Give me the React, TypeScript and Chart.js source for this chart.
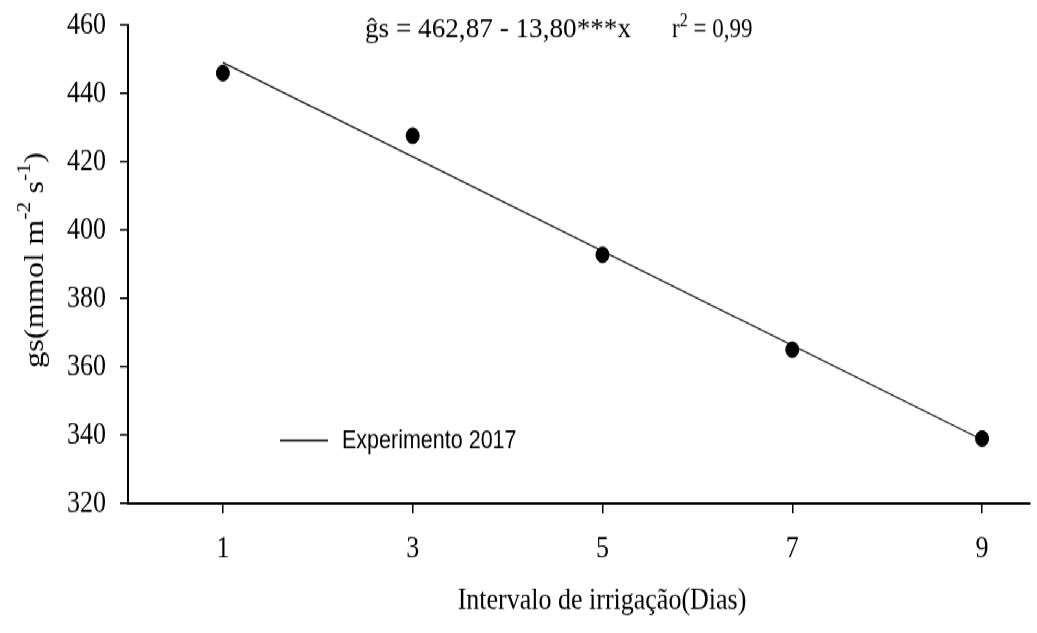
import React, { useEffect, useRef } from 'react';
import { Chart, registerables } from 'chart.js';

Chart.register(...registerables);

// ---- data ----
const intervalDays = [1, 3, 5, 7, 9];
const gsObserved = [446, 427.6, 392.8, 365, 339];
const fitX = [1, 9];
const fitY = [449.07, 338.67];
const xTickValues = [1, 3, 5, 7, 9];
const xTickLabels = ['1', '3', '5', '7', '9'];
const yTickValues = [320, 340, 360, 380, 400, 420, 440, 460];
const yTickLabels = ['320', '340', '360', '380', '400', '420', '440', '460'];
const legendLabel = 'Experimento 2017';
const xTitle = 'Intervalo de irrigação(Dias)';
const yTitleParts = [
  { text: 'gs(mmol m' },
  { text: '-2', sup: true },
  { text: ' s' },
  { text: '-1', sup: true },
  { text: ')' },
];
const equationLeft = 'ĝs = 462,87 - 13,80***x';
const equationRight = [
  { text: 'r' },
  { text: '2', sup: true },
  { text: ' = 0,99' },
];

const W = 1037;
const H = 528; // internal height, stretched to 633 on screen
const STRETCH = 633 / H;
const SERIF = '"Liberation Serif", "Times New Roman", serif';
const SANS = '"Liberation Sans", Arial, sans-serif';

type Seg = { text: string; sup?: boolean };

function richWidth(ctx: CanvasRenderingContext2D, segs: Seg[], size: number, family: string) {
  let w = 0;
  for (const s of segs) {
    ctx.font = `${s.sup ? Math.round(size * 0.68) : size}px ${family}`;
    w += ctx.measureText(s.text).width;
  }
  return w;
}

function drawRich(
  ctx: CanvasRenderingContext2D,
  segs: Seg[],
  x: number,
  y: number,
  size: number,
  family: string
) {
  let cx = x;
  for (const s of segs) {
    const sz = s.sup ? Math.round(size * 0.68) : size;
    ctx.font = `${sz}px ${family}`;
    ctx.fillText(s.text, cx, s.sup ? y - size * 0.4 : y);
    cx += ctx.measureText(s.text).width;
  }
}

const annotations = {
  id: 'annotations',
  afterDraw(chart: any) {
    const ctx: CanvasRenderingContext2D = chart.ctx;
    ctx.save();
    ctx.fillStyle = '#000';
    ctx.strokeStyle = '#000';
    ctx.textAlign = 'left';

    // equation (left part fitted to its width in the figure)
    ctx.textBaseline = 'alphabetic';
    ctx.font = `23px ${SERIF}`;
    const lw = ctx.measureText(equationLeft).width;
    ctx.save();
    ctx.translate(365, 31);
    ctx.scale(266 / lw, 1);
    ctx.fillText(equationLeft, 0, 0);
    ctx.restore();
    drawRich(ctx, equationRight, 672, 31, 23, SERIF);

    // legend
    ctx.lineWidth = 1.5;
    ctx.beginPath();
    ctx.moveTo(280, 367.5);
    ctx.lineTo(328, 367.5);
    ctx.stroke();
    ctx.textBaseline = 'middle';
    ctx.font = `21.5px ${SANS}`;
    ctx.fillText(legendLabel, 342, 368);

    // x title
    ctx.textAlign = 'center';
    ctx.textBaseline = 'alphabetic';
    ctx.font = `26px ${SERIF}`;
    ctx.fillText(xTitle, 602, 508);

    // y title
    ctx.save();
    ctx.translate(36, 217);
    ctx.rotate(-Math.PI / 2);
    ctx.textAlign = 'left';
    ctx.textBaseline = 'middle';
    const w = richWidth(ctx, yTitleParts, 27, SERIF);
    drawRich(ctx, yTitleParts, -w / 2, 0, 27, SERIF);
    ctx.restore();

    ctx.restore();
  },
};

export default function App() {
  const canvasRef = useRef<HTMLCanvasElement | null>(null);

  useEffect(() => {
    document.body.style.margin = '0';
    document.body.style.background = '#fff';
    const canvas = canvasRef.current;
    if (!canvas) return;
    const chart = new Chart(canvas, {
      type: 'scatter',
      data: {
        datasets: [
          {
            type: 'scatter',
            label: 'observed',
            data: intervalDays.map((x, i) => ({ x, y: gsObserved[i] })),
            backgroundColor: '#000',
            borderColor: '#000',
            borderWidth: 1,
            pointRadius: 6.5,
            order: 0,
          },
          {
            type: 'line',
            label: legendLabel,
            data: fitX.map((x, i) => ({ x, y: fitY[i] })),
            borderColor: '#111',
            borderWidth: 1.2,
            pointRadius: 0,
            fill: false,
            order: 1,
          },
        ],
      },
      options: {
        animation: false,
        responsive: false,
        devicePixelRatio: 1,
        layout: { padding: { top: 21, right: 1, left: 0, bottom: 0 } },
        plugins: {
          legend: { display: false },
          tooltip: { enabled: false },
        },
        scales: {
          x: {
            type: 'linear',
            min: 0,
            max: 9.5,
            afterBuildTicks: (s: any) => {
              s.ticks = xTickValues.map((v) => ({ value: v }));
            },
            afterFit: (s: any) => {
              s.height = 108;
              s.paddingLeft = 0;
              s.paddingRight = 0;
            },
            ticks: {
              autoSkip: false,
              maxRotation: 0,
              padding: 15,
              color: '#000',
              font: { family: SERIF, size: 26 },
              callback: (v: any) => {
                const i = xTickValues.indexOf(Number(v));
                return i >= 0 ? xTickLabels[i] : '';
              },
            },
            grid: { drawOnChartArea: false, drawTicks: true, tickLength: 8, color: '#000', lineWidth: 1.5 },
            border: { display: true, color: '#000', width: 2 },
          },
          y: {
            type: 'linear',
            min: 320,
            max: 460,
            afterBuildTicks: (s: any) => {
              s.ticks = yTickValues.map((v) => ({ value: v }));
            },
            afterFit: (s: any) => {
              s.width = 128;
              s.paddingTop = 0;
              s.paddingBottom = 0;
            },
            ticks: {
              autoSkip: false,
              padding: 14,
              color: '#000',
              font: { family: SERIF, size: 26 },
              callback: (v: any) => {
                const i = yTickValues.indexOf(Number(v));
                return i >= 0 ? yTickLabels[i] : '';
              },
            },
            grid: { drawOnChartArea: false, drawTicks: true, tickLength: 8, color: '#000', lineWidth: 1.5 },
            border: { display: true, color: '#000', width: 2 },
          },
        },
      },
      plugins: [annotations],
    } as any);
    return () => chart.destroy();
  }, []);

  return (
    <div
      style={{
        position: 'absolute',
        left: 0,
        top: 0,
        width: W,
        height: H,
        background: '#fff',
        transform: `scaleY(${STRETCH})`,
        transformOrigin: 'top left',
      }}
    >
      <canvas ref={canvasRef} width={W} height={H} style={{ display: 'block' }} />
    </div>
  );
}
